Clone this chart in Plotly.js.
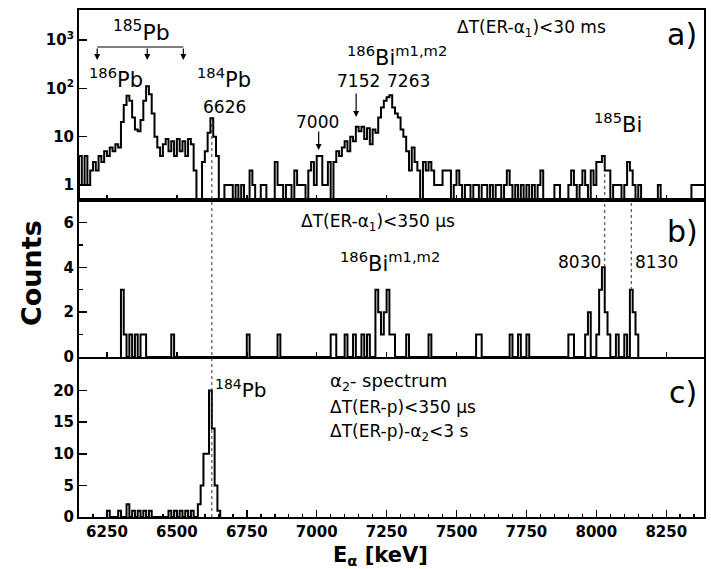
<!DOCTYPE html>
<html>
<head>
<meta charset="utf-8">
<script src="https://cdn.plot.ly/plotly-3.0.1.min.js"></script>
<style>html,body{margin:0;padding:0;background:#fff;}#chart{width:711px;height:569px;}</style>
</head>
<body>
<div id="chart"></div>
<script>
// ---------- DATA ----------
// Panel a: ΔT(ER-α1)<30 ms, 10 keV bins starting at 6150 keV
const aStart = 6150;
const aBin = 10;
const aCounts = [
  4,1,4,1,2,3,2,4,3,5,        // 6150-6240
  4,6,5,7,6,20,45,70,55,25,   // 6250-6340
  14,13,22,55,110,75,30,10,6,4, // 6350-6440
  7,9,5,8,4,9,5,8,4,9,        // 6450-6540
  7,2,0,0,3,5,12,24,10,4,     // 6550-6640
  0,0,1,1,1,0,1,0,1,0,        // 6650-6740
  0,2,1,0,0,1,1,0,0,0,        // 6750-6840
  3,1,1,0,1,1,0,2,1,1,        // 6850-6940
  1,0,2,3,1,4,4,1,1,3,        // 6950-7040
  0,3,5,4,6,8,5,10,8,16,      // 7050-7140
  13,16,9,15,7,14,12,25,40,55, // 7150-7240
  65,72,40,30,25,14,10,5,2,6, // 7250-7340
  3,2,0,3,2,3,2,1,1,1,        // 7350-7440
  2,2,2,0,1,2,1,0,1,1,        // 7450-7540
  0,1,1,0,1,1,0,1,0,1,        // 7550-7640
  1,0,1,2,1,0,1,0,1,0,        // 7650-7740
  1,0,1,0,1,2,0,0,0,0,        // 7750-7840
  1,1,0,0,0,1,2,1,0,1,        // 7850-7940
  2,1,0,2,1,3,3,4,2,2,        // 7950-8040
  0,1,1,1,0,1,3,2,1,0,        // 8050-8140
  1,0,0,0,0,0,0,1,0,0,        // 8150-8240
  0,0,0,0,0,0,0,0,0,1,        // 8250-8340
  1,1,1,1                     // 8350-8380
];

// Panel b: ΔT(ER-α1)<350 µs, bin left edges (keV) and counts, 10 keV bins
const bBin = 10;
const bEdges = [6300,6310,6330,6350,6370,6380,6480,6750,6860,7050,7060,7100,7130,7160,7180,
  7210,7220,7230,7240,7250,7260,7270,7320,7400,7570,7580,7690,7720,7750,7900,7910,7960,7970,
  8000,8010,8020,8030,8040,8070,8100,8120,8130,8140];
const bCounts = [3,1,1,1,1,1,1,1,1,1,1,1,1,1,1,
  3,2,1,2,3,1,1,1,1,1,1,1,1,1,1,1,1,2,
  1,3,4,2,1,1,1,3,2,1];

// Panel c: α2 spectrum, bin left edges (keV) and counts, 10 keV bins
const cBin = 10;
const cEdges = [6250,6290,6320,6340,6360,6380,6400,6470,6490,6510,6530,6550,
  6575,6585,6595,6605,6615,6625,6635,6645];
const cCounts = [1,1,2,1,1,1,1,1,1,1,1,1,
  2,5,10,10,20,14,5,1];

// Axis tick labels
const xTickVals = [6250,6500,6750,7000,7250,7500,7750,8000,8250];
const aTickVals = [1,10,100,1000];
const aTickText = ['1','10','10<sup>2</sup>','10<sup>3</sup>'];
const bTickVals = [0,2,4,6];
const cTickVals = [0,5,10,15,20];

// ---------- BUILD STEP OUTLINES ----------
function steps(edges, counts, w, floor) {
  const xs = [], ys = [];
  let prevEnd = null;
  for (let i = 0; i < edges.length; i++) {
    const e = edges[i];
    const c = counts[i] > 0 ? counts[i] : floor;
    if (prevEnd === null || Math.abs(e - prevEnd) > 1e-6) {
      if (prevEnd !== null) { xs.push(prevEnd); ys.push(floor); }
      xs.push(e); ys.push(floor);
    }
    xs.push(e); ys.push(c);
    xs.push(e + w); ys.push(c);
    prevEnd = e + w;
  }
  xs.push(prevEnd); ys.push(floor);
  return {x: xs, y: ys};
}
const aEdges = aCounts.map((_, i) => aStart + i * aBin);
const sa = steps(aEdges, aCounts, aBin, 0.2);
const sb = steps(bEdges, bCounts, bBin, 0);
const sc = steps(cEdges, cCounts, cBin, 0);

const lineStyle = {color: 'black', width: 2, shape: 'linear'};
const traces = [
  {x: sa.x, y: sa.y, xaxis: 'x', yaxis: 'y', mode: 'lines', line: lineStyle, hoverinfo: 'skip'},
  {x: sb.x, y: sb.y, xaxis: 'x2', yaxis: 'y2', mode: 'lines', line: lineStyle, hoverinfo: 'skip'},
  {x: sc.x, y: sc.y, xaxis: 'x3', yaxis: 'y3', mode: 'lines', line: lineStyle, hoverinfo: 'skip'}
];

// ---------- LAYOUT ----------
const L = 79, R = 704, T = 10, B = 517;
const px = p => (p - L) / (R - L);
const py = p => (B - p) / (B - T);
const FONT = 'DejaVu Sans';
const tickFont = {family: FONT, size: 15, color: 'black', weight: 'bold'};

const xCommon = {
  range: [6150, 8385], showline: true, mirror: true, linewidth: 2, linecolor: 'black',
  ticks: 'inside', tickwidth: 1.5, tickcolor: 'black', tickvals: xTickVals,
  showgrid: false, zeroline: false
};
const yCommon = {
  showline: true, mirror: true, linewidth: 2, linecolor: 'black',
  ticks: 'inside', ticklen: 8, tickwidth: 1.5, tickcolor: 'black',
  showgrid: false, zeroline: false, tickfont: tickFont
};

function ann(text, x, y, size, opts) {
  return Object.assign({
    text: text, xref: 'paper', yref: 'paper', x: px(x), y: py(y),
    xanchor: 'center', yanchor: 'middle', showarrow: false,
    font: {family: FONT, size: size, color: 'black'}
  }, opts || {});
}
function arrow(xE, tipY, len) {
  return {
    text: '', xref: 'x', yref: 'paper', x: xE, y: py(tipY), ax: 0, ay: -len,
    showarrow: true, arrowhead: 2, arrowsize: 1, arrowwidth: 1.2, arrowcolor: 'black', standoff: 0
  };
}

const layout = {
  width: 711, height: 569,
  margin: {l: L, r: 711 - R, t: T, b: 569 - B},
  paper_bgcolor: 'white', plot_bgcolor: 'white',
  showlegend: false,
  font: {family: FONT, color: 'black'},
  xaxis: Object.assign({}, xCommon, {anchor: 'y', ticklen: 5, showticklabels: false}),
  xaxis2: Object.assign({}, xCommon, {anchor: 'y2', ticklen: 5, showticklabels: false}),
  xaxis3: Object.assign({}, xCommon, {anchor: 'y3', ticklen: 7, tickfont: tickFont,
    minor: {dtick: 50, tick0: 6250, ticks: 'inside', ticklen: 3, tickwidth: 1.5, tickcolor: 'black'}}),
  yaxis: Object.assign({}, yCommon, {anchor: 'x', domain: [py(200), 1], type: 'log',
    range: [-0.31, 3.62], tickvals: aTickVals, ticktext: aTickText}),
  yaxis2: Object.assign({}, yCommon, {anchor: 'x2', domain: [py(357), py(200)],
    range: [0, 7], tickvals: bTickVals,
    minor: {tickvals: [1,3,5], ticks: 'inside', ticklen: 4, tickwidth: 1.5, tickcolor: 'black'}}),
  yaxis3: Object.assign({}, yCommon, {anchor: 'x3', domain: [0, py(359)],
    range: [0, 25], tickvals: cTickVals}),
  shapes: [
    {type: 'line', xref: 'x3', yref: 'paper', x0: 6625, x1: 6625, y0: 0, y1: py(123),
      line: {color: '#333', width: 1, dash: 'dot'}},
    {type: 'line', xref: 'x2', yref: 'paper', x0: 8030, x1: 8030, y0: py(267), y1: py(172),
      line: {color: '#333', width: 1, dash: 'dot'}},
    {type: 'line', xref: 'x2', yref: 'paper', x0: 8125, x1: 8125, y0: py(290), y1: py(200),
      line: {color: '#333', width: 1, dash: 'dot'}},
    {type: 'line', xref: 'x', yref: 'paper', x0: 6215, x1: 6523, y0: py(47), y1: py(47),
      line: {color: 'black', width: 1.2}}
  ],
  annotations: [
    arrow(6215, 60, 13), arrow(6394, 60, 13), arrow(6523, 60, 13),
    arrow(7007, 150, 20), arrow(7141, 117, 25),
    ann('<sup>185</sup>Pb', 141, 31, 22),
    ann('<sup>186</sup>Pb', 87, 78, 21, {xanchor: 'left'}),
    ann('<sup>184</sup>Pb', 195, 78, 21, {xanchor: 'left'}),
    ann('6626', 224, 107, 17),
    ann('7000', 317, 122, 17),
    ann('7152', 358, 81, 17),
    ann('7263', 408, 81, 17),
    ann('<sup>186</sup>Bi<sup>m1,m2</sup>', 345, 56, 21, {xanchor: 'left'}),
    ann('<sup>185</sup>Bi', 592, 123, 21, {xanchor: 'left'}),
    ann('ΔT(ER-α<sub>1</sub>)<30 ms', 531, 29, 17),
    ann('a)', 682, 34, 30),
    ann('ΔT(ER-α<sub>1</sub>)<350 μs', 378, 222, 17),
    ann('b)', 682, 231, 30),
    ann('<sup>186</sup>Bi<sup>m1,m2</sup>', 338, 262, 21, {xanchor: 'left'}),
    ann('8030', 579, 262, 17),
    ann('8130', 656, 262, 17),
    ann('<sup>184</sup>Pb', 213, 389, 20, {xanchor: 'left'}),
    ann('α<sub>2</sub>- spectrum', 328, 382, 18, {xanchor: 'left'}),
    ann('ΔT(ER-p)<350 μs', 328, 407, 17, {xanchor: 'left'}),
    ann('ΔT(ER-p)-α<sub>2</sub><3 s', 328, 432, 17, {xanchor: 'left'}),
    ann('c)', 683, 392, 30),
    ann('<b>Counts</b>', 31, 273, 27, {textangle: -90}),
    ann('<b>E<sub>α</sub> [keV]</b>', 380, 556, 21)
  ]
};

Plotly.newPlot('chart', traces, layout, {staticPlot: true, displayModeBar: false});
</script>
</body>
</html>
